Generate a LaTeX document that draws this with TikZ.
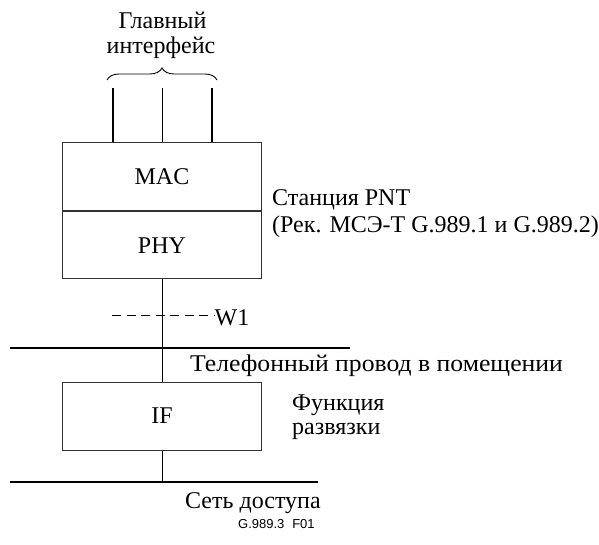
\documentclass[tikz,border=0pt]{standalone}
\usepackage{fontspec}
\setmainfont{Liberation Serif}
\newfontfamily\widefont{Liberation Serif}[FakeStretch=1.07]
\newfontfamily\capfont{Liberation Sans}
\usetikzlibrary{decorations.pathreplacing}
\begin{document}
\begin{tikzpicture}[x=1pt,y=-1pt,
  every node/.style={inner sep=0pt,font=\fontsize{24}{26}\selectfont},
  blk/.style={draw=black!80,line width=1pt,minimum width=199pt,inner sep=0pt},
  lbl/.style={anchor=base west,align=left},
  thin/.style={line width=0.9pt},
  thick/.style={line width=1.9pt}]
\useasboundingbox (0,0) rectangle (599,545);
% title
\node (title1) [anchor=base] at (162.5,29) {Главный};
\node (title2) [anchor=base] at (161,54) {интерфейс};
\coordinate (bl) at (107,80);
\coordinate (br) at (217,80);
\draw[thin,decorate,decoration={brace,amplitude=12pt}] (bl) -- (br);
% boxes
\node (mac) [blk,minimum height=68.5pt] at (162,176.5) {MAC};
\node (phy) [blk,minimum height=67pt,anchor=north] at (mac.south) {PHY};
\coordinate (i1) at (113,88);
\coordinate (i2) at (162.5,88);
\coordinate (i3) at (212,88);
\draw[thick] (i1) -- (i1 |- mac.north);
\draw[thin] (i2) -- (i2 |- mac.north);
\draw[thick] (i3) -- (i3 |- mac.north);
\node (station1) [lbl] at (272,206) {Станция PNT};
\node (station2) [lbl] at (272,233) {(Рек. МСЭ-Т G.989.1 и G.989.2)};
% wire
\coordinate (w1l) at (112,315);
\coordinate (w1r) at (214,315);
\draw[thin,dash pattern=on 9pt off 5.5pt] (w1l) -- (w1r);
\node (w1) [lbl] at (214.5,325) {W1};
\coordinate (h1l) at (10,348);
\coordinate (h1r) at (350,348);
\draw[thick] (h1l) -- (h1r);
\draw[thin] (phy.south) -- (phy.south |- h1l);
\node (tel) [lbl,font=\widefont\fontsize{24}{26}\selectfont] at (190,371) {Телефонный провод в помещении};
\node (if) [blk,minimum height=68pt] at (162,416) {IF};
\draw[thin] (if.north) -- (if.north |- h1l);
\node (func1) [lbl] at (292,410) {Функция};
\node (func2) [lbl] at (292,434) {развязки};
\coordinate (h2l) at (10,482);
\coordinate (h2r) at (318,482);
\draw[thick] (h2l) -- (h2r);
\draw[thin] (if.south) -- (if.south |- h2l);
\node (net) [lbl] at (185,508) {Сеть доступа};
\node (fig) [anchor=base west] at (238,528) {\capfont\fontsize{13}{15}\selectfont G.989.3\hspace{0.6em}F01};
\end{tikzpicture}
\end{document}
